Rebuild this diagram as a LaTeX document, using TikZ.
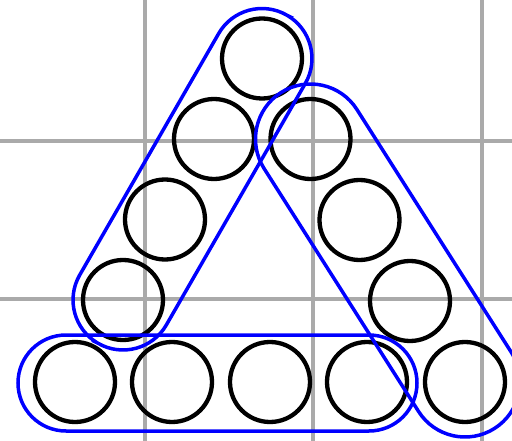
\documentclass[tikz,border=0pt]{standalone}
\definecolor{gridgray}{RGB}{170,170,170}
\definecolor{bandblue}{RGB}{0,0,255}
\begin{document}
\begin{tikzpicture}[x=1pt,y=-1pt,
  ring/.style={circle,draw=black,line width=4.3pt,minimum size=80pt,inner sep=0pt},
  gridline/.style={draw=gridgray,line width=4pt},
  band/.style={rectangle,draw=bandblue,line width=3.5pt,inner sep=0pt}]
\useasboundingbox (0,0) rectangle (512,441);
% grid
\coordinate (v1t) at (145,0);   \coordinate (v1b) at (145,441);
\coordinate (v2t) at (313,0);   \coordinate (v2b) at (313,441);
\coordinate (v3t) at (482,0);   \coordinate (v3b) at (482,441);
\coordinate (h1l) at (0,141.5); \coordinate (h1r) at (512,141.5);
\coordinate (h2l) at (0,299);   \coordinate (h2r) at (512,299);
\draw[gridline] (v1t) -- (v1b);
\draw[gridline] (v2t) -- (v2b);
\draw[gridline] (v3t) -- (v3b);
\draw[gridline] (h1l) -- (h1r);
\draw[gridline] (h2l) -- (h2r);
% circles
\node[ring] (b1) at (75,382) {};
\node[ring] (b2) at (172,382) {};
\node[ring] (b3) at (270,382) {};
\node[ring] (b4) at (367,382) {};
\node[ring] (b5) at (465,382) {};
\node[ring] (l1) at (123,300) {};
\node[ring] (l2) at (165,219.5) {};
\node[ring] (l3) at (214,139) {};
\node[ring] (top) at (262,58.5) {};
\node[ring] (r1) at (310.5,139) {};
\node[ring] (r2) at (359.5,220) {};
\node[ring] (r3) at (410,301) {};
% bands
\node[band,minimum width=378.6pt,minimum height=100pt,rounded corners=50pt,rotate=60.08] (leftband) at (192.5,179.25) {};
\node[band,minimum width=398pt,minimum height=110pt,rounded corners=55pt,rotate=-57.55] (rightband) at (387.75,260.5) {};
\node[band,minimum width=399pt,minimum height=96pt,rounded corners=48pt] (bottomband) at (217.5,383) {};
\end{tikzpicture}
\end{document}
